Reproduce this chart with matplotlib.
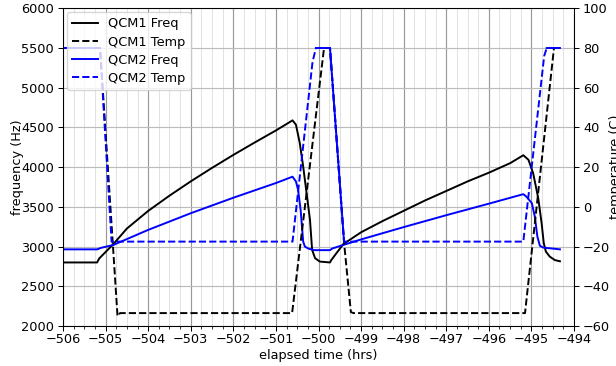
import numpy as np
import matplotlib
matplotlib.use("Agg")
import matplotlib.pyplot as plt
from matplotlib.ticker import MultipleLocator

# QCM1 frequency (Hz) vs elapsed time (hrs)
t_f1 = [-506, -505.2, -505.15, -504.82, -504.5, -504, -503.5, -503, -502.5, -502,
        -501.5, -501, -500.61, -500.53, -500.44, -500.36, -500.28, -500.20, -500.15,
        -500.08, -499.97, -499.73, -499.70, -499.42, -499, -498.5, -498, -497.5, -497,
        -496.5, -496, -495.5, -495.19, -495.07, -494.96, -494.84, -494.76, -494.71,
        -494.66, -494.57, -494.45, -494.33]
f1 = [2800, 2800, 2850, 3030, 3227, 3449, 3641, 3821, 3991, 4154,
      4310, 4462, 4589, 4535, 4304, 4009, 3673, 3337, 2958,
      2854, 2811, 2800, 2830, 3030, 3180, 3320, 3450, 3580, 3700,
      3820, 3930, 4050, 4150, 4093, 3926, 3610, 3295, 3043,
      2937, 2874, 2830, 2815]

# QCM2 frequency (Hz)
t_f2 = [-506, -505.2, -505.1, -504.82, -504, -503, -502, -501, -500.61, -500.53,
        -500.48, -500.42, -500.36, -500.32, -500.24, -500.1, -499.73, -499.68,
        -499.42, -499, -498, -497, -496, -495.19, -495.12, -494.99, -494.92,
        -494.86, -494.80, -494.72, -494.33]
f2 = [2965, 2965, 2985, 3020, 3210, 3420, 3615, 3800, 3880, 3820,
      3715, 3463, 3063, 3000, 2975, 2955, 2955, 2975,
      3020, 3090, 3245, 3395, 3540, 3660, 3630, 3547, 3378,
      3126, 3009, 2987, 2965]

# QCM1 temperature (C)
t_T1 = [-506, -505.13, -504.72, -504.66, -500.62, -499.87, -499.73, -499.40,
        -499.24, -499.18, -495.15, -494.47, -494.33]
T1 = [80, 80, -55, -53.5, -53.5, 80, 80, -18, -53, -53.5, -53.5, 80, 80]

# QCM2 temperature (C)
t_T2 = [-506, -505.13, -504.86, -500.61, -500.14, -500.06, -499.73, -499.40,
        -495.19, -494.70, -494.64, -494.33]
T2 = [80, 80, -17.5, -17.5, 73, 80, 80, -17.5, -17.5, 76, 80, 80]

DPI = 93
fig = plt.figure(figsize=(616 / DPI, 366 / DPI), dpi=DPI)
ax = fig.add_subplot(111)
fig.subplots_adjust(left=0.1023, right=0.9318, bottom=0.1093, top=0.9773)
ax2 = ax.twinx()

l1, = ax.plot(t_f1, f1, color='k', lw=1.5, label='QCM1 Freq')
l3, = ax.plot(t_f2, f2, color='b', lw=1.5, label='QCM2 Freq')
l2, = ax2.plot(t_T1, T1, color='k', ls='--', lw=1.5, label='QCM1 Temp')
l4, = ax2.plot(t_T2, T2, color='b', ls='--', lw=1.5, label='QCM2 Temp')

# heater plateaus and the fast cool-down are noisy readings, the dashes fill in solid
t2 = np.array(t_T2)
T2a = np.array(T2, dtype=float)
noisy = (t2 <= -505.13) | ((t2 >= -500.06) & (t2 <= -499.40)) | (t2 >= -494.64)
ax2.plot(t2, np.where(noisy, T2a, np.nan), color='b', lw=1.5)

ax.set_xlim(-506, -494)
ax.set_ylim(2000, 6000)
ax2.set_ylim(-60, 100)
ax.xaxis.set_major_locator(MultipleLocator(1))
ax.xaxis.set_minor_locator(MultipleLocator(0.25))
ax.yaxis.set_major_locator(MultipleLocator(500))
ax2.yaxis.set_major_locator(MultipleLocator(20))
ax.tick_params(axis='x', pad=2)

ax.grid(True, which='major', axis='x', color='#999999', lw=0.9)
ax.grid(True, which='minor', axis='x', color='#e2e2e2', lw=0.8)
ax.grid(True, which='major', axis='y', color='#bbbbbb', lw=0.9)
ax.set_axisbelow(True)

ax.set_xlabel('elapsed time (hrs)', labelpad=2)
ax.set_ylabel('frequency (Hz)', labelpad=-2)
ax2.set_ylabel('temperature (C)', labelpad=-1)

ax2.legend([l1, l2, l3, l4], [h.get_label() for h in [l1, l2, l3, l4]],
           loc='upper left', labelspacing=0.4, borderaxespad=0.3)

fig.savefig('out.png', dpi=DPI)
